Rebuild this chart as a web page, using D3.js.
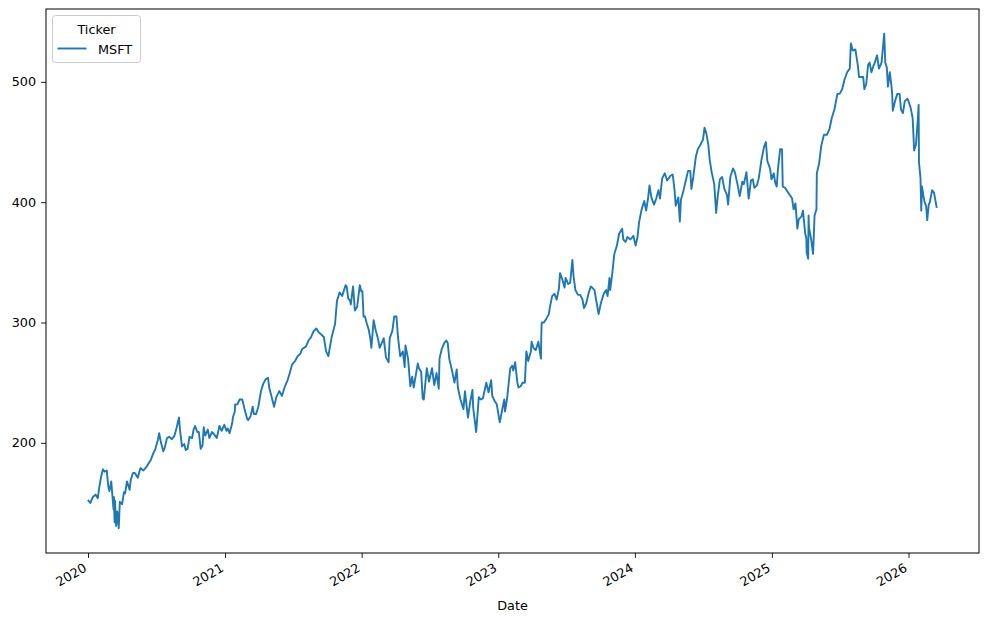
<!DOCTYPE html>
<html>
<head>
<meta charset="utf-8">
<script src="https://cdn.jsdelivr.net/npm/d3@7"></script>
<style>
  body { margin: 0; background: #fff; }
  svg { display: block; font-family: "DejaVu Sans", sans-serif; }
</style>
</head>
<body>
<svg id="chart" width="985" height="622"></svg>
<script>
// MSFT close (month-day, price) per year
var y2020 = [['01-02',152],['01-07',150],['01-14',155],['01-21',157],['01-27',154],['01-31',163],['02-05',172],['02-10',178],['02-14',176],['02-20',177],['02-24',164],['02-27',160],['03-03',168],['03-09',145],['03-10',155],['03-12',134],['03-13',152],['03-16',131],['03-19',143],['03-23',129],['03-26',151],['04-01',149],['04-06',159],['04-09',158],['04-14',168],['04-21',161],['04-24',169],['04-30',175],['05-05',175],['05-13',171],['05-20',179],['05-28',177],['06-05',180],['06-11',183],['06-17',186],['06-23',191],['06-29',195],['07-06',203],['07-09',208],['07-14',200],['07-20',193],['07-24',196],['07-30',204],['08-05',205],['08-12',203],['08-19',206],['08-25',213],['08-31',221],['09-03',210],['09-08',197],['09-14',199],['09-18',194],['09-23',195],['09-28',205],['10-05',204],['10-09',211],['10-13',214],['10-19',209],['10-23',209],['10-28',195],['11-02',198],['11-05',213],['11-09',206],['11-16',211],['11-20',204],['11-27',209],['12-03',207],['12-10',204],['12-17',214],['12-23',210],['12-30',215]]
var y2021 = [['01-05',210],['01-08',212],['01-13',208],['01-20',216],['01-22',221],['01-27',226],['01-28',232],['02-03',232],['02-09',236],['02-16',236],['02-23',227],['03-01',220],['03-04',219],['03-10',222],['03-16',230],['03-19',224],['03-25',224],['03-31',230],['04-07',243],['04-13',249],['04-20',253],['04-26',254],['04-29',246],['05-04',240],['05-12',230],['05-18',238],['05-26',243],['06-02',239],['06-10',247],['06-17',252],['06-23',258],['06-29',265],['07-07',268],['07-14',272],['07-21',274],['07-26',278],['08-05',280],['08-12',285],['08-19',288],['08-26',293],['09-02',295],['09-08',292],['09-15',290],['09-22',288],['09-28',276],['10-04',272],['10-13',288],['10-22',299],['10-27',318],['11-03',325],['11-10',322],['11-19',331],['11-22',330],['11-26',320],['12-01',318],['12-03',315],['12-09',330],['12-14',310],['12-20',313],['12-27',331],['12-31',326]]
var y2022 = [['01-03',326],['01-06',305],['01-10',305],['01-14',300],['01-20',294],['01-24',287],['01-27',279],['02-02',302],['02-08',293],['02-14',286],['02-18',279],['02-24',283],['03-01',287],['03-07',271],['03-14',267],['03-17',287],['03-24',293],['03-29',305],['04-04',305],['04-08',288],['04-14',272],['04-21',276],['04-26',263],['04-28',281],['05-05',270],['05-11',247],['05-16',255],['05-20',246],['05-25',255],['05-31',266],['06-03',262],['06-09',259],['06-13',237],['06-16',236],['06-24',262],['06-30',251],['07-08',262],['07-14',248],['07-20',258],['07-26',245],['07-28',270],['08-03',278],['08-10',283],['08-15',285],['08-19',283],['08-23',270],['08-29',262],['09-06',250],['09-12',261],['09-15',246],['09-22',236],['09-30',228],['10-04',243],['10-12',221],['10-18',234],['10-24',244],['10-26',229],['11-03',209],['11-10',238],['11-15',236],['11-21',237],['11-30',250],['12-06',242],['12-13',252],['12-16',239],['12-22',235],['12-28',232]]
var y2023 = [['01-05',217],['01-10',225],['01-17',236],['01-19',226],['01-25',238],['02-02',262],['02-07',264],['02-10',260],['02-15',267],['02-21',250],['02-24',246],['03-02',247],['03-07',250],['03-13',250],['03-17',276],['03-22',268],['03-29',276],['03-31',284],['04-05',279],['04-11',277],['04-18',284],['04-25',270],['04-26',291],['04-27',300],['05-03',300],['05-09',303],['05-16',307],['05-19',313],['05-25',322],['05-31',324],['06-06',319],['06-12',328],['06-15',341],['06-22',335],['06-27',329],['06-30',337],['07-07',332],['07-12',333],['07-18',352],['07-21',339],['07-26',327],['08-02',323],['08-08',323],['08-14',319],['08-18',312],['08-24',316],['08-30',324],['09-05',330],['09-12',328],['09-15',327],['09-21',316],['09-26',307],['10-02',316],['10-10',324],['10-16',327],['10-20',322],['10-25',337],['10-27',327],['11-02',342],['11-07',357],['11-14',364],['11-20',374],['11-28',378],['12-01',369],['12-07',367],['12-12',371],['12-20',369],['12-28',372]]
var y2024 = [['01-03',364],['01-08',371],['01-12',383],['01-19',394],['01-24',399],['01-26',401],['01-31',393],['02-05',403],['02-09',414],['02-14',404],['02-21',398],['02-27',403],['03-04',410],['03-08',403],['03-14',420],['03-21',424],['03-27',418],['04-01',420],['04-05',422],['04-11',423],['04-16',410],['04-19',397],['04-26',404],['04-30',384],['05-03',402],['05-10',410],['05-16',418],['05-22',426],['05-28',426],['05-31',411],['06-05',421],['06-12',438],['06-17',444],['06-21',446],['06-26',449],['07-01',452],['07-05',462],['07-10',457],['07-15',448],['07-19',435],['07-24',425],['07-31',415],['08-05',391],['08-09',404],['08-15',419],['08-21',421],['08-27',411],['09-03',406],['09-06',398],['09-12',421],['09-19',428],['09-24',425],['10-01',415],['10-07',405],['10-14',417],['10-18',415],['10-25',425],['10-31',403],['11-06',418],['11-11',419],['11-15',412],['11-22',414],['11-27',420],['12-04',435],['12-11',446],['12-16',450],['12-20',434],['12-27',428],['12-31',419]]
var y2025 = [['01-06',424],['01-10',416],['01-14',413],['01-17',427],['01-23',444],['01-28',444],['01-30',413],['02-05',412],['02-11',409],['02-18',406],['02-24',403],['02-28',394],['03-05',399],['03-10',378],['03-14',386],['03-21',388],['03-25',393],['03-31',374],['04-03',370],['04-04',358],['04-08',353],['04-09',389],['04-10',379],['04-16',369],['04-21',357],['04-25',389],['04-30',394],['05-01',424],['05-07',432],['05-13',447],['05-20',456],['05-28',456],['06-04',461],['06-10',470],['06-17',477],['06-25',490],['07-01',490],['07-08',494],['07-14',502],['07-21',508],['07-28',511],['07-31',532],['08-05',526],['08-12',527],['08-18',515],['08-22',504],['08-27',504],['09-02',504],['09-05',494],['09-10',498],['09-15',514],['09-19',516],['09-24',508],['09-29',513],['10-03',516],['10-09',522],['10-14',511],['10-21',516],['10-28',540],['10-31',516],['11-04',512],['11-07',496],['11-12',508],['11-18',492],['11-20',476],['11-26',484],['12-02',490],['12-08',490],['12-12',477],['12-17',474],['12-22',484],['12-29',486]]
var y2026 = [['01-02',483],['01-07',478],['01-12',470],['01-14',457],['01-16',443],['01-21',448],['01-26',470],['01-28',481],['01-29',433],['02-02',420],['02-04',393],['02-06',413],['02-10',405],['02-13',400],['02-17',397],['02-20',385],['02-24',398],['02-27',400],['03-05',410],['03-10',408],['03-17',396]]

var years = [2020, 2021, 2022, 2023, 2024, 2025, 2026]
var yTicks = [200, 300, 400, 500]
var ticker = 'MSFT'
var legendTitle = 'Ticker'
var xLabel = 'Date'

var parse = d3.timeParse('%Y-%m-%d')
var data = []
;[y2020, y2021, y2022, y2023, y2024, y2025, y2026].forEach(function (rows, i) {
  rows.forEach(function (r) {
    data.push({ date: parse(years[i] + '-' + r[0]), close: r[1] })
  })
})

// plot box (window.top is taken, so names are prefixed)
var boxL = 46, boxR = 979, boxT = 9, boxB = 553
var fs = 12.8
var svg = d3.select('#chart')

// matplotlib style 5% margins on both axes
var xe = d3.extent(data, d => d.date)
var xpad = (xe[1] - xe[0]) * 0.05
var x = d3.scaleTime()
  .domain([new Date(+xe[0] - xpad), new Date(+xe[1] + xpad)])
  .range([boxL, boxR])

var ye = d3.extent(data, d => d.close)
var ypad = (ye[1] - ye[0]) * 0.05
var y = d3.scaleLinear()
  .domain([ye[0] - ypad, ye[1] + ypad])
  .range([boxB, boxT])

var line = d3.line()
  .x(d => x(d.date))
  .y(d => y(d.close))

svg.append('path')
  .datum(data)
  .attr('d', line)
  .attr('fill', 'none')
  .attr('stroke', '#1f77b4')
  .attr('stroke-width', 1.9)
  .attr('stroke-linejoin', 'round')
  .attr('stroke-linecap', 'square')

// axes
var gy = svg.append('g')
  .attr('transform', 'translate(' + boxL + ',0)')
  .call(d3.axisLeft(y).tickValues(yTicks).tickSize(4.9).tickPadding(5).tickFormat(d3.format('d')))
gy.select('.domain').remove()
gy.selectAll('text').attr('font-size', fs).attr('fill', '#000').attr('font-family', 'DejaVu Sans')
gy.selectAll('line').attr('stroke', '#000').attr('stroke-width', 0.9)

var gx = svg.append('g')
  .attr('transform', 'translate(0,' + boxB + ')')
  .call(d3.axisBottom(x).tickValues(years.map(v => new Date(v, 0, 1))).tickSize(4.9).tickFormat(d3.timeFormat('%Y')))
gx.select('.domain').remove()
gx.selectAll('line').attr('stroke', '#000').attr('stroke-width', 0.9)
gx.selectAll('text')
  .attr('y', null)
  .attr('dy', null)
  .attr('text-anchor', 'end')
  .attr('transform', 'translate(-1,17.5) rotate(-30)')
  .attr('font-size', fs)
  .attr('fill', '#000')
  .attr('font-family', 'DejaVu Sans')

// frame
svg.append('rect')
  .attr('x', boxL).attr('y', boxT)
  .attr('width', boxR - boxL).attr('height', boxB - boxT)
  .attr('fill', 'none').attr('stroke', '#000').attr('stroke-width', 1)

svg.append('text')
  .attr('x', (boxL + boxR) / 2).attr('y', 609.5)
  .attr('text-anchor', 'middle')
  .attr('font-size', fs)
  .text(xLabel)

// legend
var lg = svg.append('g')
lg.append('rect')
  .attr('x', 52.5).attr('y', 15.5).attr('width', 88).attr('height', 47).attr('rx', 3)
  .attr('fill', '#fff').attr('fill-opacity', 0.8)
  .attr('stroke', '#cccccc').attr('stroke-width', 1)
lg.append('text')
  .attr('x', 96.5).attr('y', 33.5)
  .attr('text-anchor', 'middle').attr('font-size', fs)
  .text(legendTitle)
lg.append('line')
  .attr('x1', 57.5).attr('x2', 86.5).attr('y1', 48.5).attr('y2', 48.5)
  .attr('stroke', '#1f77b4').attr('stroke-width', 1.9)
lg.append('text')
  .attr('x', 98).attr('y', 54)
  .attr('font-size', fs)
  .text(ticker)
</script>
</body>
</html>
